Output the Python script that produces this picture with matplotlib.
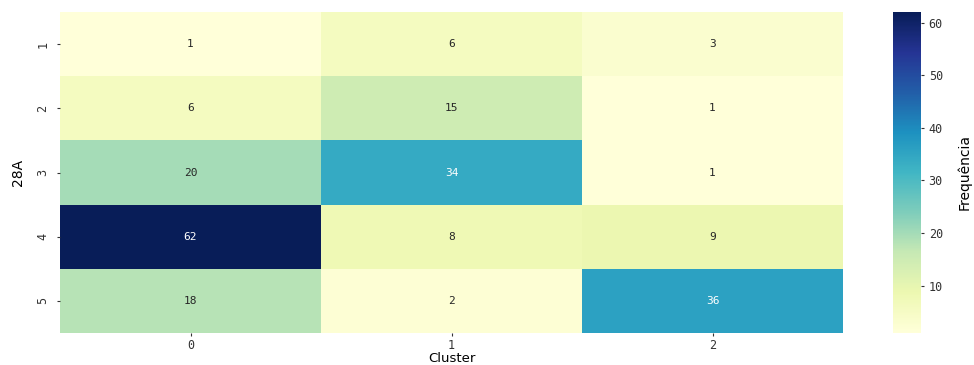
import matplotlib
matplotlib.use("Agg")
import matplotlib.pyplot as plt
import numpy as np
import pandas as pd
import seaborn as sns

# Contingency counts: rows = answers to item 28A, columns = cluster id
rows_28a = ["1", "2", "3", "4", "5"]
clusters = ["0", "1", "2"]
cluster_0 = [1, 6, 20, 62, 18]
cluster_1 = [6, 15, 34, 8, 2]
cluster_2 = [3, 1, 1, 9, 36]
cbar_ticks = [10, 20, 30, 40, 50, 60]

table = pd.DataFrame({"0": cluster_0, "1": cluster_1, "2": cluster_2}, index=rows_28a)

mono = "DejaVu Sans Mono"

fig = plt.figure(figsize=(9.74, 3.65), dpi=100)
ax = fig.add_axes([60 / 974, 1 - 333 / 365, (843 - 60) / 974, (333 - 12) / 365])
cax = fig.add_axes([893 / 974, 1 - 333 / 365, (921 - 893) / 974, (333 - 12) / 365])

sns.heatmap(table, ax=ax, cbar_ax=cax, cmap="YlGnBu", annot=True, fmt="d",
            annot_kws={"fontsize": 8, "family": mono},
            cbar_kws={"label": "Frequência"})

ax.set_xlabel("Cluster", fontsize=9.5, labelpad=0)
ax.set_ylabel("28A", fontsize=10, labelpad=8)
ax.tick_params(axis="x", length=2.5, pad=1.5, colors="#333333")
ax.tick_params(axis="y", length=2.5, pad=5, colors="#333333")
ax.set_yticklabels(rows_28a, rotation=90, va="center", fontsize=8.5, family=mono)
ax.set_xticklabels(clusters, rotation=0, fontsize=8.5, family=mono)

cax.set_yticks(cbar_ticks)
cax.set_yticklabels([str(t) for t in cbar_ticks], fontsize=8.5, family=mono)
cax.tick_params(length=2.5, pad=3, colors="#333333")
cax.set_ylabel("Frequência", fontsize=10, labelpad=10)

fig.savefig("out.png", dpi=100)
